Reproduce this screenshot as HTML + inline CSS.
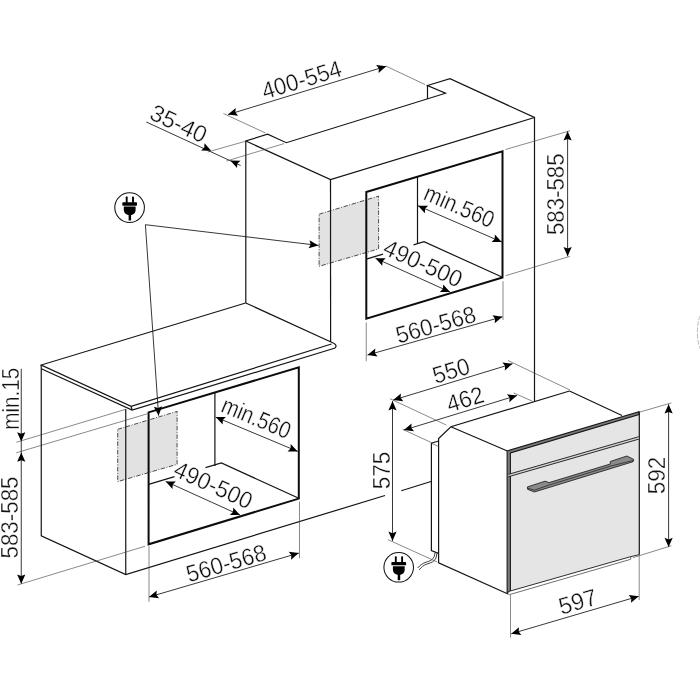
<!DOCTYPE html>
<html><head><meta charset="utf-8"><title>Oven installation dimensions</title>
<style>
html,body{margin:0;padding:0;background:#fff;}
svg{display:block;filter:grayscale(1)}
.m{fill:none;stroke:#141414;stroke-width:1.2;stroke-linejoin:miter;stroke-linecap:butt}
.k{fill:none;stroke:#0c0c0c;stroke-width:2;stroke-linejoin:miter}
.d{fill:none;stroke:#141414;stroke-width:0.85}
.p{fill:none;stroke:#161616;stroke-width:0.9}
.t{fill:none;stroke:#3a3a3a;stroke-width:0.6}
.c{fill:none;stroke:#1e1e1e;stroke-width:0.85}
.a{fill:#000;stroke:none}
.g{fill:#e2e2e2;stroke:#222;stroke-width:0.8;stroke-dasharray:4.5 1.5 1 1.5}
text{font-family:"Liberation Sans",sans-serif;fill:#111;stroke:#fff;stroke-width:0.35px}
</style></head><body>
<svg width="700" height="700" viewBox="0 0 700 700">
<rect width="700" height="700" fill="#fff"/>
<polygon class="g" points="319.1,214.2 378.6,196.1 378.6,248.9 319.1,266.3"/>
<polygon class="g" points="117.7,429.3 177.1,411.4 177.1,464.3 117.7,481.6"/>
<polyline class="m" points="245.8,303 245.8,141 267.6,134.2 286.3,142.7 445.5,93.25 427.5,85.5 450,78.75 534.5,117.5 534.5,401"/>
<line class="m" x1="427.5" y1="85.5" x2="427.5" y2="99"/>
<polyline class="m" points="245.8,141 330.5,179.5 534.5,117.5"/>
<line class="m" x1="330.5" y1="179.5" x2="330.6" y2="342"/>
<line class="m" x1="245.8" y1="303" x2="331" y2="342"/>
<polygon class="k" points="366.3,192 502.5,151.25 502.5,277.5 366.3,318.75"/>
<line class="m" x1="417.5" y1="176.7" x2="417.5" y2="243.6"/>
<line class="m" x1="366.3" y1="259.1" x2="383" y2="254.1"/>
<polyline class="m" points="413.5,244.9 424,241.75 502.5,277.2"/>
<line class="d" x1="228" y1="114.6" x2="386.25" y2="66.25"/>
<polygon class="a" points="228.00,114.60 235.70,107.96 235.36,112.35 238.09,115.80"/>
<polygon class="a" points="386.25,66.25 378.55,72.89 378.89,68.50 376.16,65.05"/>
<line class="t" x1="223.4" y1="113.5" x2="265.5" y2="133"/>
<line class="t" x1="386.25" y1="66.25" x2="425" y2="84.5"/>
<text x="0" y="0" font-size="23.7" text-anchor="middle" transform="translate(304.00,87.50) rotate(-17) scale(0.9452,1)">400-554</text>
<line class="d" x1="146.3" y1="122" x2="240.6" y2="165.5"/>
<polygon class="a" points="211.25,150.75 201.09,150.58 204.26,147.52 204.52,143.13"/>
<polygon class="a" points="230.30,160.50 240.46,160.67 237.29,163.73 237.03,168.12"/>
<line class="t" x1="207.7" y1="152" x2="245.5" y2="141.25"/>
<line class="t" x1="226.3" y1="161.1" x2="284" y2="143.6"/>
<text x="0" y="0" font-size="23.7" text-anchor="middle" transform="translate(175.25,131.00) rotate(25) scale(0.9824,1)">35-40</text>
<line class="d" x1="418" y1="205.75" x2="501.75" y2="242"/>
<polygon class="a" points="418.00,205.75 428.16,205.68 425.07,208.81 424.91,213.21"/>
<polygon class="a" points="501.75,242.00 491.59,242.07 494.68,238.94 494.84,234.54"/>
<text x="0" y="0" font-size="23.7" text-anchor="middle" transform="translate(456.25,213.75) rotate(23.4) scale(0.8767,1)">min.560</text>
<line class="d" x1="375.5" y1="258.25" x2="450" y2="292"/>
<polygon class="a" points="375.50,258.25 385.66,258.35 382.51,261.43 382.28,265.82"/>
<polygon class="a" points="450.00,292.00 439.84,291.90 442.99,288.82 443.22,284.43"/>
<text x="0" y="0" font-size="23.7" text-anchor="middle" transform="translate(419.75,270.75) rotate(24.4) scale(0.9636,1)">490-500</text>
<line class="d" x1="367.5" y1="355" x2="502.5" y2="316.75"/>
<polygon class="a" points="367.50,355.00 375.33,348.52 374.91,352.90 377.57,356.41"/>
<polygon class="a" points="502.50,316.75 494.67,323.23 495.09,318.85 492.43,315.34"/>
<text x="0" y="0" font-size="23.7" text-anchor="middle" transform="translate(438.00,332.50) rotate(-15.8) scale(0.9439,1)">560-568</text>
<line class="t" x1="366.25" y1="322.5" x2="366.25" y2="361.25"/>
<line class="t" x1="503" y1="281.25" x2="503" y2="320"/>
<line class="d" x1="567.6" y1="131.25" x2="567.6" y2="256.3"/>
<polygon class="a" points="567.60,131.25 571.70,140.55 567.60,138.95 563.50,140.55"/>
<polygon class="a" points="567.60,256.30 563.50,247.00 567.60,248.60 571.70,247.00"/>
<text x="0" y="0" font-size="23.7" text-anchor="middle" transform="translate(564.00,194.25) rotate(-90) scale(0.9378,1)">583-585</text>
<line class="t" x1="505.5" y1="149.5" x2="570" y2="130.75"/>
<line class="t" x1="505.7" y1="275.7" x2="570" y2="256.3"/>
<polyline class="m" points="245.6,303 41.25,365 131.1,406.4 331.5,344"/>
<polyline class="m" points="41.25,365 41.25,535.75 125.75,574.6 385,495.5"/>
<line class="m" x1="401.25" y1="490.75" x2="431" y2="481.5"/>
<polyline class="m" points="41.25,368.75 132.1,410 335.2,348"/>
<path class="m" d="M331,342 Q336.8,344.2 336,346.6 L335.2,348"/>
<line class="m" x1="125.75" y1="409" x2="125.75" y2="574.6"/>
<line class="m" x1="131.1" y1="406.4" x2="132.1" y2="410"/>
<polygon class="k" points="148.6,412.4 298.8,367.3 298.8,498.6 148.6,544.3"/>
<line class="m" x1="214.9" y1="392.5" x2="214.9" y2="466"/>
<line class="m" x1="148.6" y1="484.3" x2="174.5" y2="476.7"/>
<polyline class="m" points="205.5,467.6 221.4,462.9 298.8,498.3"/>
<line class="d" x1="21.25" y1="368.75" x2="21.25" y2="583.75"/>
<polygon class="a" points="21.25,441.50 17.15,432.20 21.25,433.80 25.35,432.20"/>
<polygon class="a" points="21.25,452.50 25.35,461.80 21.25,460.20 17.15,461.80"/>
<polygon class="a" points="21.25,583.75 17.15,574.45 21.25,576.05 25.35,574.45"/>
<line class="t" x1="16.25" y1="442.3" x2="125" y2="409.5"/>
<line class="t" x1="16.25" y1="452.8" x2="147.5" y2="413.75"/>
<line class="t" x1="17.5" y1="585" x2="145" y2="546.25"/>
<text x="0" y="0" font-size="23.7" text-anchor="middle" transform="translate(18.50,398.75) rotate(-90) scale(0.8695,1)">min.15</text>
<text x="0" y="0" font-size="23.7" text-anchor="middle" transform="translate(18.00,517.50) rotate(-90) scale(0.9438,1)">583-585</text>
<line class="d" x1="215.7" y1="417.1" x2="297.7" y2="451.4"/>
<polygon class="a" points="215.70,417.10 225.86,416.91 222.80,420.07 222.70,424.47"/>
<polygon class="a" points="297.70,451.40 287.54,451.59 290.60,448.43 290.70,444.03"/>
<text x="0" y="0" font-size="23.7" text-anchor="middle" transform="translate(253.25,425.25) rotate(22.7) scale(0.8640,1)">min.560</text>
<line class="d" x1="165.7" y1="481.4" x2="240" y2="515.1"/>
<polygon class="a" points="165.70,481.40 175.86,481.51 172.71,484.58 172.48,488.98"/>
<polygon class="a" points="240.00,515.10 229.84,514.99 232.99,511.92 233.22,507.52"/>
<text x="0" y="0" font-size="23.7" text-anchor="middle" transform="translate(210.00,492.50) rotate(24.4) scale(0.9574,1)">490-500</text>
<line class="d" x1="149" y1="597" x2="298.8" y2="553.1"/>
<polygon class="a" points="149.00,597.00 156.77,590.45 156.39,594.83 159.08,598.32"/>
<polygon class="a" points="298.80,553.10 291.03,559.65 291.41,555.27 288.72,551.78"/>
<text x="0" y="0" font-size="23.7" text-anchor="middle" transform="translate(228.50,571.00) rotate(-16.3) scale(0.9440,1)">560-568</text>
<line class="t" x1="149" y1="546.3" x2="149" y2="601.8"/>
<line class="t" x1="299.5" y1="501.7" x2="299.5" y2="558.3"/>
<g transform="translate(129.6,207.6)"><circle r="14.8" fill="#fff" stroke="#141414" stroke-width="1.05"/><rect x="-3.85" y="-11.1" width="1.9" height="6.5" rx="0.7" fill="#000"/><rect x="2.45" y="-11.1" width="1.9" height="6.5" rx="0.7" fill="#000"/><rect x="-7.3" y="-5.35" width="14.7" height="3.4" rx="0.7" fill="#000"/><path d="M-5.8,-1.0 H6.0 V2.2 C6.0,5.6 3.6,7.5 0.3,7.5 C-3.2,7.5 -5.8,5.6 -5.8,2.2 Z" fill="#000"/><rect x="-1.0" y="6.5" width="2.5" height="6.4" fill="#000"/></g>
<line class="d" x1="145.4" y1="224.7" x2="318.3" y2="245.4"/>
<polygon class="a" points="318.30,245.40 308.58,248.37 310.65,244.48 309.55,240.22"/>
<line class="d" x1="145.4" y1="224.7" x2="158.6" y2="415.7"/>
<polygon class="a" points="158.60,415.70 153.87,406.70 158.07,408.02 162.05,406.14"/>
<polyline class="m" points="569.5,391 450.9,426.8 438.6,438.5 438.6,562.8 508,594"/>
<line class="m" x1="450.9" y1="426.8" x2="507.4" y2="451"/>
<line class="m" x1="569.5" y1="391" x2="622" y2="415.5"/>
<polyline class="m" points="438.6,441 431.4,443.3 431.4,550.5 438.4,553.4"/>
<line class="t" x1="431.4" y1="443.3" x2="438.6" y2="446.5"/>
<path class="c" d="M435,552.9 C434.4,559.2 431.2,560.6 426,562.2 C422.4,563.4 419.8,565.4 417.6,568"/>
<path class="c" d="M436.9,553.6 C436.2,560.8 432.8,562.3 427,564 C423.6,565.1 421.2,567.2 419.2,569.9"/>
<polygon points="507,451 638.9,411.9 639.3,554.6 509.6,591.2 507,592.6" fill="#e5e5e5" stroke="none"/>
<polygon points="507.1,450.9 638.9,411.8 638.9,414.6 510.4,452.9 510.4,591 507.1,592.6" fill="#7a7a7a" stroke="#161616" stroke-width="1.05" stroke-linejoin="miter"/>
<line class="m" x1="639.3" y1="411.6" x2="639.3" y2="554.8"/>
<polygon points="508.6,474.3 638.9,436.7 638.9,438.9 508.6,476.6" fill="#d4d4d4" stroke="none"/>
<line class="p" x1="508.6" y1="474.3" x2="638.9" y2="436.7"/>
<line class="p" x1="508.6" y1="476.7" x2="638.9" y2="439.1"/>
<polygon points="509.6,591.2 629.6,556.9 639.3,554.6 639.3,555 630.7,557 630.7,559.3 509.6,594.6" fill="#fff" stroke="none"/>
<polyline class="p" points="509.6,591.2 629.8,556.9 639.3,554.6"/>
<polyline points="630.7,557 630.7,559.3 509.6,594.6 508,593.8" fill="none" stroke="#4a4a4a" stroke-width="0.8"/>
<polygon points="527.4,486.9 545.1,481.2 549.1,482.6 610.3,464 610.3,461.5 626.9,456 633.7,459.4 633.1,461.7 534.3,492 527.6,489.3" fill="#8a8a8a" stroke="#1c1c1c" stroke-width="0.85" stroke-linejoin="round"/>
<polyline points="527.6,488.2 534.4,490.2 549.5,484.9 610.3,466.2 633.4,460.4" fill="none" stroke="#222" stroke-width="0.75"/>
<line class="d" x1="393.2" y1="400.1" x2="512.5" y2="363.75"/>
<polygon class="a" points="393.20,400.10 400.90,393.47 400.57,397.86 403.29,401.31"/>
<polygon class="a" points="512.50,363.75 504.80,370.38 505.13,365.99 502.41,362.54"/>
<text x="0" y="0" font-size="23.7" text-anchor="middle" transform="translate(453.50,378.50) rotate(-17) scale(0.9580,1)">550</text>
<line class="d" x1="403.9" y1="430.1" x2="517" y2="395.5"/>
<polygon class="a" points="403.90,430.10 411.59,423.46 411.26,427.85 413.99,431.30"/>
<polygon class="a" points="517.00,395.50 509.31,402.14 509.64,397.75 506.91,394.30"/>
<text x="0" y="0" font-size="23.7" text-anchor="middle" transform="translate(467.50,407.00) rotate(-17) scale(0.9583,1)">462</text>
<line class="t" x1="390" y1="398.75" x2="446.25" y2="425"/>
<line class="t" x1="402.5" y1="429.25" x2="431.25" y2="442.5"/>
<line class="t" x1="507.9" y1="360.5" x2="570" y2="390"/>
<line class="t" x1="513.6" y1="392.9" x2="532.5" y2="401.25"/>
<line class="d" x1="392.5" y1="401.1" x2="392.5" y2="540.9"/>
<polygon class="a" points="392.50,401.10 396.60,410.40 392.50,408.80 388.40,410.40"/>
<polygon class="a" points="392.50,540.90 388.40,531.60 392.50,533.20 396.60,531.60"/>
<text x="0" y="0" font-size="23.7" text-anchor="middle" transform="translate(389.50,470.50) rotate(-90) scale(0.9491,1)">575</text>
<line class="t" x1="388.1" y1="539.7" x2="437.3" y2="562"/>
<line class="d" x1="668.6" y1="404.3" x2="668.6" y2="547.1"/>
<polygon class="a" points="668.60,404.30 672.70,413.60 668.60,412.00 664.50,413.60"/>
<polygon class="a" points="668.60,547.10 664.50,537.80 668.60,539.40 672.70,537.80"/>
<text x="0" y="0" font-size="23.7" text-anchor="middle" transform="translate(665.00,475.50) rotate(-90) scale(0.9471,1)">592</text>
<line class="t" x1="640" y1="412" x2="671.4" y2="402.9"/>
<line class="t" x1="632.9" y1="557.7" x2="671.4" y2="545.7"/>
<line class="d" x1="511.25" y1="633.75" x2="638.75" y2="596.25"/>
<polygon class="a" points="511.25,633.75 519.02,627.19 518.64,631.58 521.33,635.06"/>
<polygon class="a" points="638.75,596.25 630.98,602.81 631.36,598.42 628.67,594.94"/>
<text x="0" y="0" font-size="23.7" text-anchor="middle" transform="translate(580.00,609.50) rotate(-16.4) scale(0.9791,1)">597</text>
<line class="t" x1="510.5" y1="595" x2="510.5" y2="637.5"/>
<line class="t" x1="639.2" y1="555" x2="639.2" y2="600"/>
<g transform="translate(398.7,567.3)"><circle r="14.8" fill="#fff" stroke="#141414" stroke-width="1.05"/><rect x="-3.85" y="-11.1" width="1.9" height="6.5" rx="0.7" fill="#000"/><rect x="2.45" y="-11.1" width="1.9" height="6.5" rx="0.7" fill="#000"/><rect x="-7.3" y="-5.35" width="14.7" height="3.4" rx="0.7" fill="#000"/><path d="M-5.8,-1.0 H6.0 V2.2 C6.0,5.6 3.6,7.5 0.3,7.5 C-3.2,7.5 -5.8,5.6 -5.8,2.2 Z" fill="#000"/><rect x="-1.0" y="6.5" width="2.5" height="6.4" fill="#000"/></g>
<path d="M700.3,315.5 C696.4,323 696.4,341 700.3,348.8" fill="none" stroke="#b4b4b4" stroke-width="0.9" stroke-dasharray="4.8 1.4"/>
</svg>
</body></html>
